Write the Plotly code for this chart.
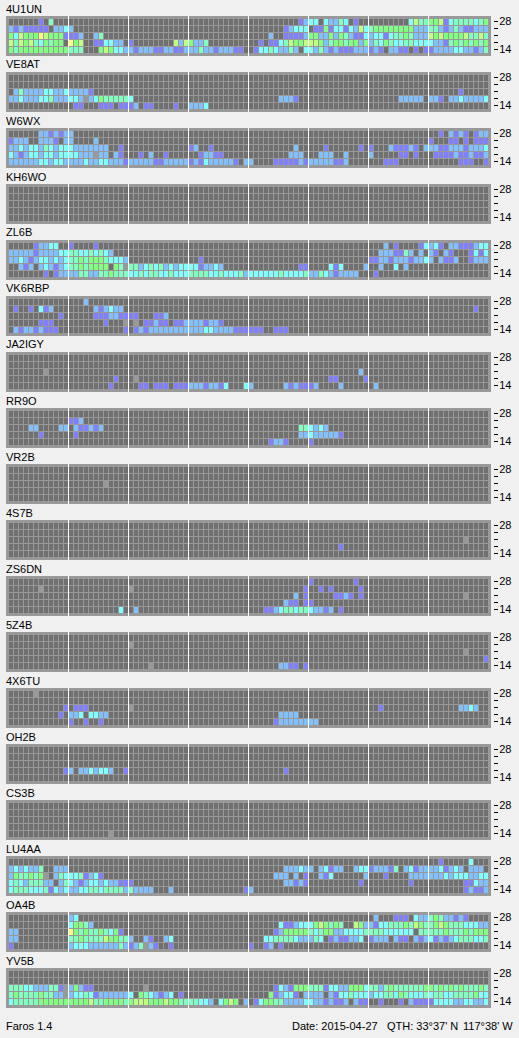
import plotly.graph_objects as go

W, H = 519, 1038
STATIONS = ["4U1UN","VE8AT","W6WX","KH6WO","ZL6B","VK6RBP","JA2IGY","RR9O","VR2B",
            "4S7B","ZS6DN","5Z4B","4X6TU","OH2B","CS3B","LU4AA","OA4B","YV5B"]
TICK_TEXT = ["14", "", "", "", "28"]
E = "............"
# Level per 15-minute slot: . none, 1-7 signal strength, 9 missing. Rows: 28, 24, 21, 18, 14 MHz
U4U1UN = [
 [ "......1.4...",E,E,E,"..........12","33.32243.1..","........3644","556134444345"],
 [ "21211111.223","2...........",E,E,".......12333",".11513313263","455555555222","442124211222"],
 [ "536555765551","112..24.....",E,E,"....2..11112","552252542113","233134454222","656555564464"],
 [ "64656435455.","756..113322.","1........626","5224........","..1.11346556","665245545525","243543344333","322145454545"],
 [ "545555555555","444...565332","212221122112","22422122211.",".133432242.3","324212111222","121.2211.1.1","122223322124"],
]
VE8AT = [
 [E]*8,
 [E]*8,
 [".24222233223","22221.......",E,E,E,E,E,"......1....."],
 ["223222334222","332923544444","3...........",E,"......2221..",E,"......22222.","221.22322223"],
 [E,".11...111.11","12.11....1..","2223........",E,E,E,E],
]
W6WX = [
 ["......221212","2...........",E,E,E,E,E,"..1.2121.122"],
 ["1222..2221.2","2....2......",E,E,E,E,E,"1...11.1.111"],
 ["223233243233","32222222..1.",E,"12..1.......",".........2..","...1......1.","1...211121.2","221122212223"],
 ["321233233233","33222922.21.","..1.2..1....","..12211.....","........222.","..222..2....","2.....11.1..",".11112112112"],
 ["222222332332","222322332221","222221122222","1213222221.2","2....1111121","22222112....","...111......","......111..1"],
]
KH6WO = [[E]*8 for _ in range(5)]
ZL6B = [
 [".....12233..","1....1......",E,E,E,E,"...2.1....13","231.22111233"],
 ["222221222233","443343432...",E,E,E,E,"..2221142.2.","21.21...1313"],
 ["223212332323","445455543332",E,"..1.........",E,E,"112212221223","2.2112..1222"],
 ["..212.232123","44545555.549","442343423233","3312232.....","..........11","....313....2","..2..3.2....",E],
 [".......1.122","224422445444","334344334333","444433433342","333333433334","2243212222..",".1..........",E],
]
VK6RBP = [
 [E,"...2........",E,E,E,E,E,E],
 [".1..1.312...",".....212322.",E,E,E,E,E,".........1.."],
 ["..........1.",".....1112211","11...112....",E,E,E,E,E],
 ["......111...",".......1...9",".9.11211.112","2221221.....",E,E,E,E],
 [".212212111..","...........1",".12122222222","222332222111","111..111....",E,E,E],
]
JA2IGY = [
 [E]*8,
 [E]*8,
 [".......9....",E,E,E,E,"..........2.",E,E],
 [E,".........1..",".9..........",E,E,"....11.....1",E,E],
 [E,"........1...","..11.111.111","22212213...3","2......21211","12....2.....",".2..........",E],
]
RR9O = [
 [E]*8,
 [E,"112.........",E,E,E,E,E,E],
 ["....22....22",".211212.....",E,E,"..........44","3232........",E,E],
 ["......1.....",".1..........",E,E,"..........22","3222221.....",E,E],
 [E,E,E,E,"....1221....","1...........",E,E],
]
VR2B = [
 [E]*8,
 [E]*8,
 [E,".......9....",E,E,E,E,E,E],
 [E]*8,
 [E]*8,
]
S4S7B = [
 [E]*8,
 [E]*8,
 [E,E,E,E,E,E,E,".......9...."],
 [E,E,E,E,E,"......1.....",E,E],
 [E]*8,
]
ZS6DN = [
 [E,E,E,E,E,"1........1..",E,E],
 ["......9.....",E,"9...........",E,"...........1","..1.1.....1.",E,E],
 [E,E,E,E,".........2.1",".....1121.1.",E,".......9...."],
 [E,E,E,E,".......211.1","1...........",E,E],
 [E,"..........3.",".2..........",E,"...112344344","32212.1.....",E,E],
]
Z5Z4B = [
 [E]*8,
 [E,E,"9...........",E,E,E,E,E],
 [E,E,E,E,E,E,E,".......9...."],
 [E,E,E,E,E,E,E,"...........1"],
 [E,E,"....9.......",E,"......2211.1",E,E,E],
]
X4X6TU = [
 [".....9......",E,E,E,E,E,E,E],
 [E]*8,
 ["...........1",".111........","9...........",E,E,E,"..1.........","......2232.."],
 ["..........1.","223.3322....",E,E,"......2222..",E,E,E],
 [E,"1..1..1.....",E,E,".....1222222","22..........",E,E],
]
OH2B = [
 [E]*8,
 [E]*8,
 [E]*8,
 ["...........1","2.2232332..1",E,E,".......1....",E,E,E],
 [E]*8,
]
CS3B = [
 [E]*8,
 [E]*8,
 [E]*8,
 [E]*8,
 [E,"........9...",E,E,E,E,E,E],
]
LU4AA = [
 [E,E,E,E,E,E,E,"..1.....3..."],
 ["2323224..222",E,E,E,".......22232","2.23122..233","122214.23122","2231232.222."],
 ["25445459.243","3341231.....",E,E,".....222.2.1","..213......2","...1....2222","222323332233"],
 ["343244422.24","321233232211","1...........",E,".......22121","..........1.","........1...",".......11322"],
 ["344433341323","223344344442","42222...2...","...........1","2...........",E,E,".......12112"],
]
OA4B = [
 [E,"23..........",E,E,E,E,".2...111.322","45422121...."],
 [E,"35542.......",E,E,"......311233","3565454..652","213344454654","456544433322"],
 ["22..........","75454454351.",E,E,".....1255555","434552233334","444333333.44","444544454555"],
 ["22..........","445444465544","2..21..23...",E,"...334444322","243.1211223.","1222.211.212","312123444334"],
 ["1...........","233322222242","124921..1...",E,"1..12.1.....",E,E,E],
]
YV5B = [
 [E]*8,
 [E]*8,
 ["444332224419","25211.......","...9........",E,".....1321555","444133225553","442454444445","545454544454"],
 ["454444544229","233431222222","3.5432123.1.",E,"....512331.2","222.21334333","233443543334","344334444533"],
 ["344444555555","555564455554","566655565544","44332.3565.2",".13554422223","32212112.211","..1...1.2111","133332233223"],
]
PANELS = [U4U1UN,VE8AT,W6WX,KH6WO,ZL6B,VK6RBP,JA2IGY,RR9O,VR2B,S4S7B,ZS6DN,Z5Z4B,X4X6TU,OH2B,CS3B,LU4AA,OA4B,YV5B]

COLORS = ["#707070","#8080FF","#80C0FF","#80FFFF","#80FFC0","#80FF80","#C0FF80","#FFFF80","#707070","#999999"]
scale = []
for i, c in enumerate(COLORS):
    scale += [[i/10, c], [(i+1)/10, c]]

def parse(rows):
    out = []
    for row in rows[::-1]:          # bottom row (14 MHz) first
        s = "".join(row)
        assert len(s) == 96, s
        out.append([0 if ch == "." else int(ch) for ch in s])
    return out

fig = go.Figure()
shapes, annos = [], []
FONT = dict(family="Liberation Sans, Arial, sans-serif", size=11, color="#000000")
layout = {}
for k, (name, rows) in enumerate(zip(STATIONS, PANELS)):
    top = 16 + 56*k
    n = "" if k == 0 else str(k+1)
    xa, ya = "x"+n, "y"+n
    fig.add_trace(go.Heatmap(z=parse(rows), x=list(range(96)), y=list(range(5)),
                             zmin=0, zmax=9.999, colorscale=scale, showscale=False,
                             xgap=1, ygap=1, hoverinfo="skip", xaxis=xa, yaxis=ya))
    layout["xaxis"+n] = dict(domain=[9/W, 489/W], range=[-0.5, 95.5], visible=False,
                             anchor=ya, fixedrange=True)
    layout["yaxis"+n] = dict(domain=[1-(top+38)/H, 1-(top+3)/H], range=[-0.5, 4.5],
                             anchor="free", position=493/W, side="right", overlaying=None,
                             tickmode="array", tickvals=[i+1/7 for i in range(5)], ticktext=TICK_TEXT,
                             ticks="outside", ticklen=4, tickwidth=1, tickcolor="#000000",
                             ticklabelstandoff=-1, tickfont=FONT, showgrid=False, zeroline=False,
                             showline=False, fixedrange=True)
    shapes.append(dict(type="rect", xref="paper", yref="paper", layer="below", line_width=0,
                       x0=6/W, x1=491/W, y0=1-(top+40)/H, y1=1-top/H, fillcolor="#999999"))
    for b in range(1, 8):
        shapes.append(dict(type="line", xref=xa, yref="paper", layer="above",
                           x0=12*b-0.6, x1=12*b-0.6, y0=1-(top+40)/H, y1=1-top/H,
                           line=dict(color="#FFFFFF", width=1)))
    annos.append(dict(text=name, x=4/W, y=1-(top-7.5)/H, xref="paper", yref="paper",
                      xanchor="left", yanchor="middle", showarrow=False, font=FONT))

FOOT = [("Faros 1.4", 4), ("Date: 2015-04-27", 290), ("QTH: 33°37' N", 385), ("117°38' W", 461)]
for t, x in FOOT:
    annos.append(dict(text=t, x=x/W, y=1-1025.5/H, xref="paper", yref="paper",
                      xanchor="left", yanchor="middle", showarrow=False, font=FONT))

fig.update_layout(width=W, height=H, margin=dict(l=0, r=0, t=0, b=0, pad=0, autoexpand=False),
                  paper_bgcolor="#F0F0F0", plot_bgcolor="#999999", showlegend=False,
                  shapes=shapes, annotations=annos, **layout)
fig.write_html("out.html", config={"displayModeBar": False},
               post_script="document.body.style.margin='0';document.body.style.overflow='hidden';")
